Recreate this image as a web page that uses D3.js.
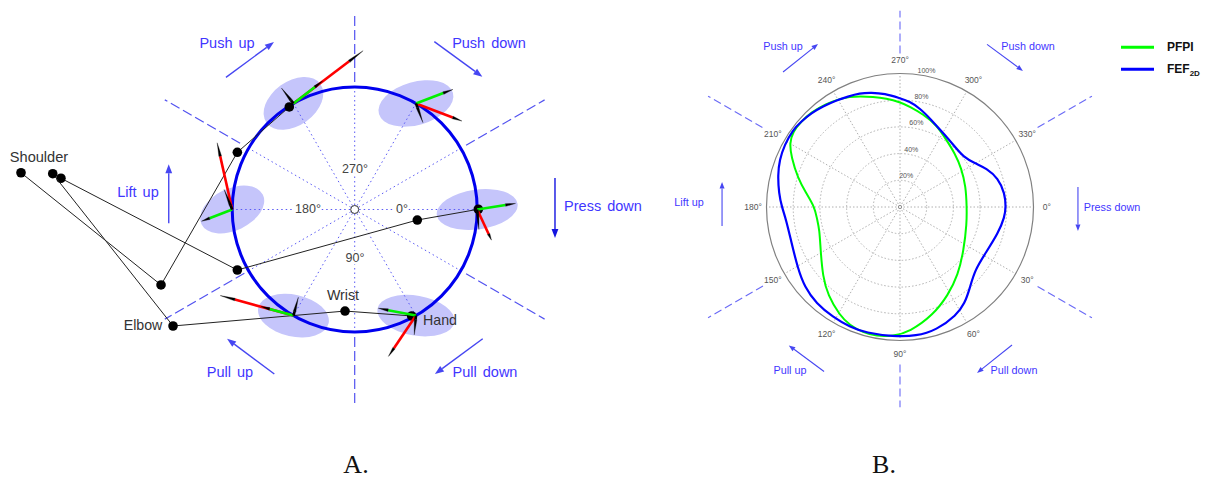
<!DOCTYPE html>
<html><head><meta charset="utf-8">
<script src="https://cdn.jsdelivr.net/npm/d3@7"></script>
<style>html,body{margin:0;padding:0;background:#fff;overflow:hidden}svg{display:block}text{font-family:"Liberation Sans",Arial,sans-serif}</style>
</head><body><svg id="c" width="1206" height="479"></svg>
<script>
// ---------- Panel A data (workspace units: target circle radius = 10) ----------
const targetAngles = [240, 300, 180, 0, 120, 60];
const ellipseA = [2.71, 3.14, 2.78, 3.33, 2.94, 3.19];
const ellipseB = [1.80, 1.76, 1.71, 1.62, 1.71, 1.63];
const ellipseTilt = [-36, -16, -25.6, -8, 12.4, 10];
const greenAngle = [-37.5, -20.7, 159, -9, 195.6, 191];
const greenLen = [2.99, 3.23, 2.68, 3.17, 2.74, 3.13];
const redAngle = [-37.1, 21, -102.7, 65, 195.3, 124];
const redLen = [7.13, 4.02, 5.58, 2.76, 6.2, 4.02];
const blackAngle = [-128, 70, -112, 85, -75, 95];
const blackLen = [1.59, 1.67, 1.76, 1.63, 1.55, 1.58];
const armShoulder = [[-27.24, -3.0], [-23.98, -2.55], [-24.65, -2.92]];
const armElbow = [[-15.81, 6.16], [-9.58, 4.94], [-14.83, 9.51]];
const armWrist = [[-9.58, -4.67], [5.11, 0.86], [-0.79, 8.29]];
const armHand = [[-5.34, -8.37], [10.09, -0.02], [4.65, 8.69]];
const dirLabels = ["Push up", "Push down", "Lift up", "Press down", "Pull up", "Pull down"];
const dirArrowsA = [
  [-10.51, -10.79, -6.59, -13.67], [6.5, -13.7, 10.42, -10.84], [-15.18, 1.13, -15.18, -3.69],
  [16.35, -2.57, 16.35, 2.33], [-6.56, 13.43, -10.42, 10.55], [10.45, 10.55, 6.55, 13.43]];
const spokeAngles = d3.range(0, 360, 30);
const dashedAngles = [270, 330, 30, 90, 150, 210];
const dashedInnerA = [10.4, 10.5, 10.5, 10.4, 10.4, 10.8];
const dashedOuterA = [15.9, 17.9, 17.9, 15.9, 17.9, 17.9];
const angleTextsA = ["270°", "180°", "0°", "90°"];

// ---------- Panel B data ----------
const fefAngles = [0, 5.3, 15, 27.4, 40.2, 49.4, 56.1, 62.4, 73.5, 82.8, 93.1, 105, 112.8, 121.4, 131, 140.1, 149, 162.3, 173.5, 180, 186.4, 194.7, 201.3, 208.3, 215.7, 220.9, 226.6, 232.5, 239.1, 244.8, 250.5, 255.9, 262.3, 270, 275.2, 281.3, 289.8, 301.8, 312.2, 321.4, 329.7, 335.9, 343.7, 352.6];
const fefValues = [79.3, 78.8, 76.1, 72.9, 73.3, 80.3, 87, 91.4, 96.2, 97.5, 97.1, 97.6, 97.4, 96.4, 95.7, 93.2, 89.3, 85.5, 85.8, 88.5, 91.3, 94.6, 96.9, 98.2, 98.9, 97.8, 96.7, 94.9, 93, 91.5, 90.5, 88.4, 85.8, 81.5, 79.3, 75.5, 69.4, 63.6, 61.1, 60.5, 64.9, 71, 76.6, 79.2];
const pfpiAngles = [0, 13.8, 34, 49.5, 61.4, 73, 85.6, 93.1, 100.4, 106.4, 113.1, 119.2, 129.3, 137.9, 151.5, 164, 172.2, 180, 188.3, 195.7, 204.9, 210, 215.2, 220.9, 226.9, 234.4, 240.8, 245.4, 250, 256.2, 262.8, 270, 275.5, 284, 293.9, 304.7, 315.5, 327.8, 342.8];
const pfpiValues = [50, 51.5, 57.6, 67, 75.2, 84.7, 93.8, 96.9, 98.4, 98, 96.2, 92.8, 85.3, 77.9, 67.7, 62.7, 62.8, 64, 71, 79.5, 89.8, 95.5, 98.1, 97.8, 97.3, 95, 92.8, 90.7, 88.3, 85, 81.9, 78.5, 75.6, 71.6, 67.3, 61.1, 57.5, 54.4, 51.6];
const gridLevels = [20, 40, 60, 80, 100];
const gridLabels = ["20%", "40%", "60%", "80%", "100%"];
const dirArrowsB = [
  [-87.6, -101.1, -61.4, -122.1], [65.2, -121.8, 92.1, -101.9], [-133.3, 14.2, -133.3, -18.7],
  [133.3, -15, 133.3, 18], [-56.9, 123.2, -83.3, 103.7], [83.9, 103.4, 57.7, 124.3]];
const dashedInnerB = [115, 119, 119, 118, 118.5, 119];
const dashedOuterB = [147, 166, 166, 150, 166, 166];
const seriesNames = ["PFPI", "FEF"];
const seriesColors = ["#00ff00", "#0000ff"];
const panelLabels = ["A.", "B."];

// ---------- scales ----------
const svg = d3.select("#c");
const xA = d3.scaleLinear().domain([-10, 10]).range([232.2, 477.2]);
const yA = d3.scaleLinear().domain([-10, 10]).range([87, 332]);
const rA = d3.scaleLinear().domain([0, 10]).range([0, 122.5]);
const xB = d3.scaleLinear().domain([-100, 100]).range([766.5, 1033.5]);
const yB = d3.scaleLinear().domain([-100, 100]).range([73.5, 340.5]);
const rB = d3.scaleLinear().domain([0, 100]).range([0, 133.5]);
const rad = d => d * Math.PI / 180;
const pA = (ang, r) => [xA(r * Math.cos(rad(ang))), yA(r * Math.sin(rad(ang)))];
const pB = (ang, r) => [xB(r * Math.cos(rad(ang))), yB(r * Math.sin(rad(ang)))];
const path = d3.line();
const DIR = "#4646f2", LABEL = "#3f36ff", DASH = "#6a6af6";

function arrow(g, x1, y1, x2, y2, color, len, wid, sw) {
  const dx = x2 - x1, dy = y2 - y1, L = Math.hypot(dx, dy), ux = dx / L, uy = dy / L;
  const bx = x2 - ux * len, by = y2 - uy * len;
  g.append("line").attr("x1", x1).attr("y1", y1).attr("x2", bx).attr("y2", by)
    .attr("stroke", color).attr("stroke-width", sw);
  g.append("path").attr("d", path([[x2, y2], [bx - uy * wid, by + ux * wid], [bx + uy * wid, by - ux * wid]]) + "Z")
    .attr("fill", color);
}

// ---------- Panel A ----------
const A = svg.append("g");
const [cxA, cyA] = [xA(0), yA(0)];
targetAngles.forEach((a, i) => {
  const [x, y] = pA(a, 10);
  A.append("ellipse").attr("cx", x).attr("cy", y).attr("rx", rA(ellipseA[i])).attr("ry", rA(ellipseB[i]))
    .attr("transform", `rotate(${ellipseTilt[i]} ${x} ${y})`).attr("fill", "#c5c5fb");
});
spokeAngles.forEach(a => {
  const [x, y] = pA(a, 10);
  A.append("line").attr("x1", cxA).attr("y1", cyA).attr("x2", x).attr("y2", y)
    .attr("stroke", "#5a5af5").attr("stroke-width", 1).attr("stroke-dasharray", "1.5 3");
});
dashedAngles.forEach((a, i) => {
  const s = pA(a, dashedInnerA[i]), e = pA(a, dashedOuterA[i]);
  A.append("line").attr("x1", s[0]).attr("y1", s[1]).attr("x2", e[0]).attr("y2", e[1])
    .attr("stroke", "#5252f0").attr("stroke-width", 1.2).attr("stroke-dasharray", "10 4");
});
A.append("circle").attr("cx", cxA).attr("cy", cyA).attr("r", rA(10)).attr("fill", "none")
  .attr("stroke", "#0000ee").attr("stroke-width", 3);
A.append("circle").attr("cx", cxA).attr("cy", cyA).attr("r", 4).attr("fill", "#fff")
  .attr("stroke", "#333").attr("stroke-width", 1);

// arm links
armShoulder.forEach((s, i) => {
  const pts = [s, armElbow[i], armWrist[i], armHand[i]].map(p => [xA(p[0]), yA(p[1])]);
  A.append("path").attr("d", path(pts)).attr("fill", "none").attr("stroke", "#222").attr("stroke-width", 1);
  pts.forEach(p => A.append("circle").attr("cx", p[0]).attr("cy", p[1]).attr("r", 4.8).attr("fill", "#000"));
});

// force vectors: a coloured shaft ending in a tapered black tip
function vector(o, ang, len, color, tipFrac) {
  const ux = Math.cos(rad(ang)), uy = Math.sin(rad(ang)), L = rA(len), tl = L * tipFrac;
  const e = [o[0] + L * ux, o[1] + L * uy], b = [e[0] - ux * tl, e[1] - uy * tl];
  A.append("line").attr("x1", o[0]).attr("y1", o[1]).attr("x2", b[0]).attr("y2", b[1])
    .attr("stroke", color).attr("stroke-width", 2.6);
  A.append("path").attr("d", path([e, [b[0] - uy * 1.35, b[1] + ux * 1.35], [b[0] + uy * 1.35, b[1] - ux * 1.35]]) + "Z")
    .attr("fill", "#000").attr("stroke", "#000").attr("stroke-width", 0.3);
}
targetAngles.forEach((a, i) => {
  const o = pA(a, 10);
  vector(o, redAngle[i], redLen[i], "#ff0000", 0.2);
  vector(o, greenAngle[i], greenLen[i], "#00f000", 0.26);
  vector(o, blackAngle[i], blackLen[i], "#000", 0.8);
});

// direction arrows + labels
dirArrowsA.forEach((d, i) => arrow(A, xA(d[0]), yA(d[1]), xA(d[2]), yA(d[3]), i === 3 ? "#1414e0" : DIR, 9, 3.4, 1.4));
const dirPosA = [[227, 48], [489, 48], [138, 197], [603, 211], [230, 377], [485, 377]];
dirLabels.forEach((t, i) => A.append("text").attr("x", dirPosA[i][0]).attr("y", dirPosA[i][1])
  .attr("text-anchor", "middle").attr("font-size", 14.5).attr("word-spacing", 2).attr("fill", LABEL).text(t));
const anglePosA = [[355, 173], [308, 213], [402, 213], [355, 262]];
angleTextsA.forEach((t, i) => A.append("text").attr("x", anglePosA[i][0]).attr("y", anglePosA[i][1])
  .attr("text-anchor", "middle").attr("font-size", 12.5).attr("fill", "#444")
  .attr("stroke", "#fff").attr("stroke-width", 5).attr("paint-order", "stroke").text(t));
[["Shoulder", 39, 162, 14.6], ["Elbow", 143, 330, 14.2], ["Wrist", 343, 300, 14.2], ["Hand", 440, 325, 14.2]].forEach(d =>
  A.append("text").attr("x", d[1]).attr("y", d[2]).attr("text-anchor", "middle").attr("font-size", d[3]).attr("fill", "#333").text(d[0]));

// ---------- Panel B ----------
const B = svg.append("g");
const [cxB, cyB] = [xB(0), yB(0)];
gridLevels.slice(0, -1).forEach(v => B.append("circle").attr("cx", cxB).attr("cy", cyB).attr("r", rB(v))
  .attr("fill", "none").attr("stroke", "#b0b0b0").attr("stroke-width", 1).attr("stroke-dasharray", "1.5 2"));
spokeAngles.forEach(a => {
  const e = pB(a, 100);
  B.append("line").attr("x1", cxB).attr("y1", cyB).attr("x2", e[0]).attr("y2", e[1])
    .attr("stroke", "#b0b0b0").attr("stroke-width", 1).attr("stroke-dasharray", "1.5 2");
});
B.append("circle").attr("cx", cxB).attr("cy", cyB).attr("r", rB(100)).attr("fill", "none").attr("stroke", "#808080").attr("stroke-width", 1.2);
B.append("circle").attr("cx", cxB).attr("cy", cyB).attr("r", 1.6).attr("fill", "#fff").attr("stroke", "#777").attr("stroke-width", 0.8);
spokeAngles.forEach(a => {
  const p = pB(a, 110);
  B.append("text").attr("x", p[0]).attr("y", p[1]).attr("dy", "0.35em").attr("text-anchor", "middle")
    .attr("font-size", 8.5).attr("fill", "#555").text(a + "°");
});
gridLevels.forEach((v, i) => {
  const p = pB(-79, v + 4.2);
  B.append("text").attr("x", p[0]).attr("y", p[1]).attr("dy", "0.35em").attr("text-anchor", "middle")
    .attr("font-size", 7).attr("fill", "#555").text(gridLabels[i]);
});
const radial = d3.lineRadial().angle(d => rad(d[0] + 90)).radius(d => rB(d[1])).curve(d3.curveBasisClosed);
[[pfpiAngles, pfpiValues], [fefAngles, fefValues]].forEach(([angs, vals], i) => {
  B.append("path").attr("transform", `translate(${cxB},${cyB})`)
    .attr("d", radial(angs.map((a, j) => [a, vals[j]])))
    .attr("fill", "none").attr("stroke", seriesColors[i]).attr("stroke-width", i ? 2.2 : 2);
});
dashedAngles.forEach((a, i) => {
  const s = pB(a, dashedInnerB[i]), e = pB(a, dashedOuterB[i]);
  B.append("line").attr("x1", s[0]).attr("y1", s[1]).attr("x2", e[0]).attr("y2", e[1])
    .attr("stroke", DASH).attr("stroke-width", 1.1).attr("stroke-dasharray", "8 4");
});
dirArrowsB.forEach(d => arrow(B, xB(d[0]), yB(d[1]), xB(d[2]), yB(d[3]), DIR, 6.5, 2.5, 1.1));
const dirPosB = [[783, 50], [1028, 50], [689, 206], [1112, 211], [790, 374], [1014, 374]];
dirLabels.forEach((t, i) => B.append("text").attr("x", dirPosB[i][0]).attr("y", dirPosB[i][1])
  .attr("text-anchor", "middle").attr("font-size", 10.8).attr("fill", LABEL).text(t));

// legend
[47.3, 69.3].forEach((y, i) => {
  B.append("line").attr("x1", 1121).attr("x2", 1154).attr("y1", y).attr("y2", y).attr("stroke", seriesColors[i]).attr("stroke-width", 3);
  const t = B.append("text").attr("x", 1167).attr("y", y + 4).attr("font-size", 12).attr("font-weight", "bold").attr("fill", "#111").text(seriesNames[i]);
  if (i) t.append("tspan").attr("font-size", 8).attr("dy", 3).text("2D");
});

panelLabels.forEach((t, i) => svg.append("text").attr("x", i ? 884 : 356).attr("y", 473).attr("text-anchor", "middle")
  .style("font-family", "'Liberation Serif',serif").attr("font-size", 26).attr("fill", "#111").text(t));
</script></body></html>
